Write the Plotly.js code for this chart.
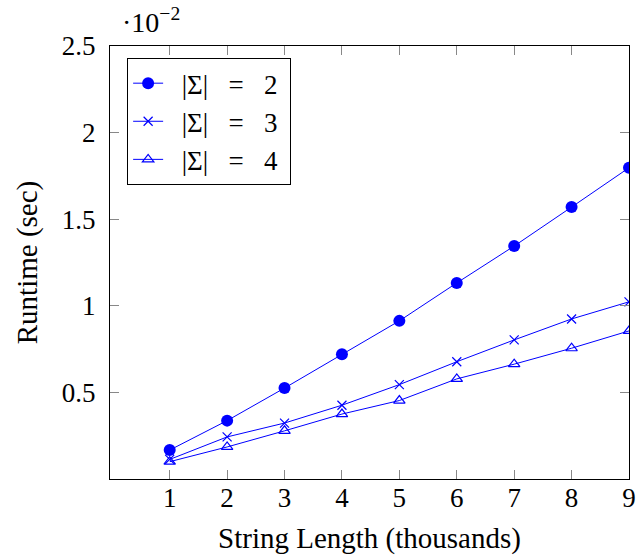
<!DOCTYPE html>
<html><head><meta charset="utf-8">
<script src="https://cdn.plot.ly/plotly-3.0.1.min.js"></script>
<style>body{margin:0;background:#fff}#c{width:637px;height:556px}</style>
</head><body><div id="c"></div>
<script>
const xs = [1,2,3,4,5,6,7,8,9];
const sigma2 = [0.167,0.337,0.525,0.720,0.913,1.132,1.345,1.570,1.797];
const sigma3 = [0.113,0.243,0.323,0.426,0.545,0.677,0.803,0.924,1.023];
const sigma4 = [0.100,0.185,0.278,0.375,0.453,0.578,0.663,0.755,0.855];
const yTicks = [0.5,1,1.5,2,2.5];
const yTickText = ['0.5','1','1.5','2','2.5'];
const nb = '\u00a0';
const sp3 = nb+nb+nb;
const names = [2,3,4].map(k => nb+nb+'|Σ|'+sp3+'='+sp3+k+nb);
const blue = 'rgb(0,0,255)';
const font = 'Liberation Serif, DejaVu Serif, serif';
const traces = [
  {x: xs, y: sigma2, name: names[0], mode: 'lines+markers', line:{color:blue,width:1}, marker:{symbol:'circle', size:12, color:blue}},
  {x: xs, y: sigma3, name: names[1], mode: 'lines+markers', line:{color:blue,width:1}, marker:{symbol:'x-thin-open', size:9, color:blue, line:{color:blue,width:1.2}}},
  {x: xs, y: sigma4, name: names[2], mode: 'lines+markers', line:{color:blue,width:1}, marker:{symbol:'triangle-up-open', size:10, color:blue, line:{color:blue,width:1.2}}}
];
const axisCommon = {showgrid:false, zeroline:false, showline:true, linecolor:'#000', linewidth:1, mirror:'ticks', ticks:'inside', ticklen:9, tickcolor:'#888', tickfont:{family:font, size:27, color:'#000'}};
const layout = {
  width:637, height:556,
  margin:{l:110, r:8, t:46, b:77},
  paper_bgcolor:'#fff', plot_bgcolor:'#fff',
  font:{family:font, color:'#000'},
  showlegend:true,
  legend:{x:0.033, y:0.972, xanchor:'left', yanchor:'top', bgcolor:'#fff', bordercolor:'#000', borderwidth:1, font:{family:font, size:27, color:'#000'}, tracegroupgap:0, itemwidth:30},
  xaxis: Object.assign({}, axisCommon, {range:[-0.04, 9], tickvals:xs, ticktext:xs.map(String), ticklabelstandoff:-5, title:{text:'String Length (thousands)', font:{family:font, size:29}, standoff:15}}),
  yaxis: Object.assign({}, axisCommon, {range:[0, 2.5], tickvals:yTicks, ticktext:yTickText, ticklabelstandoff:8, title:{text:'Runtime (sec)', font:{family:font, size:29}, standoff:15}}),
  annotations:[{xref:'paper', yref:'paper', x:0.02, y:1.0, yshift:6, xanchor:'left', yanchor:'bottom', showarrow:false, text:'·10<sup>−2</sup>', font:{family:font, size:28, color:'#000'}}]
};
Plotly.newPlot('c', traces, layout, {displayModeBar:false});
</script></body></html>
